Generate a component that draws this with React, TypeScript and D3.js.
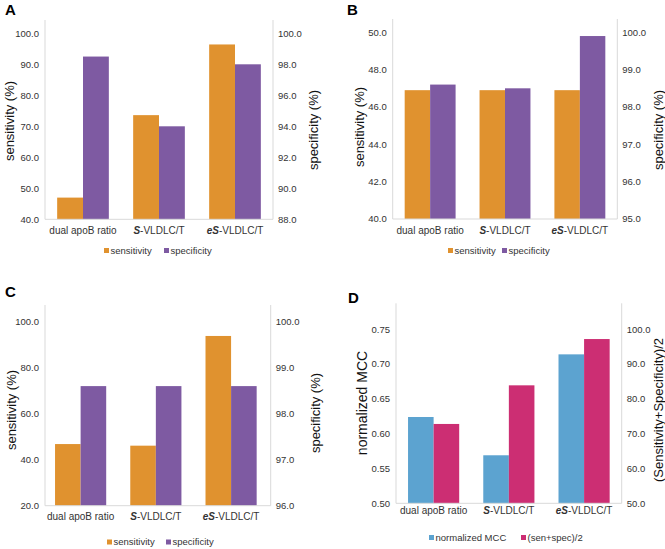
import React from "react";
import * as d3 from "d3";

// ---- data ----
const categoryPrefix = ["", "S", "eS"];
const categorySuffix = ["dual apoB ratio", "-VLDLC/T", "-VLDLC/T"];

const sensitivityA = [47.0, 73.6, 96.4];
const specificityA = [98.5, 94.0, 98.0];
const sensitivityB = [46.9, 46.9, 46.9];
const specificityB = [98.6, 98.5, 99.9];
const sensitivityC = [46.8, 46.1, 93.8];
const specificityC = [98.6, 98.6, 98.6];
const mccD = [0.624, 0.569, 0.714];
const senSpecD = [72.8, 83.9, 97.2];

const ticksALeft = [40, 50, 60, 70, 80, 90, 100];
const ticksARight = [88, 90, 92, 94, 96, 98, 100];
const ticksBLeft = [40, 42, 44, 46, 48, 50];
const ticksBRight = [95, 96, 97, 98, 99, 100];
const ticksCLeft = [20, 40, 60, 80, 100];
const ticksCRight = [96, 97, 98, 99, 100];
const ticksDLeft = [0.5, 0.55, 0.6, 0.65, 0.7, 0.75];
const ticksDRight = [50, 60, 70, 80, 90, 100];

const ORANGE = "#E0922F";
const PURPLE = "#7E5AA2";
const BLUE = "#5CA3D0";
const PINK = "#CC2E73";
const AXIS = "#D9D9D9";
const TEXT = "#333333";
const FONT = "'Liberation Sans', Arial, Helvetica, sans-serif";

type PanelCfg = {
  letter: string;
  letterX: number;
  letterY: number;
  left: number;
  right: number;
  top: number;
  maxY: number;
  base: number;
  leftTicks: number[];
  rightTicks: number[];
  leftDec: number;
  rightDec: number;
  s1: number[];
  s2: number[];
  c1: string;
  c2: string;
  n1: string;
  n2: string;
  leftLabel: string;
  rightLabel: string;
  leftLabelX: number;
  leftLabelY: number;
  leftLabelSize: number;
  rightLabelX: number;
  rightLabelY: number;
  rightLabelSize: number;
  catY: number;
  legY: number;
  legX: number;
  legGap: number;
  shift: number;
};

const panels: PanelCfg[] = [
  {
    letter: "A", letterX: 5, letterY: 15, left: 45, right: 273, top: 20, maxY: 33.3, base: 219.3,
    leftTicks: ticksALeft, rightTicks: ticksARight, leftDec: 1, rightDec: 1,
    s1: sensitivityA, s2: specificityA, c1: ORANGE, c2: PURPLE, n1: "sensitivity", n2: "specificity",
    leftLabel: "sensitivity (%)", rightLabel: "specificity (%)",
    leftLabelX: 9, leftLabelY: 121, leftLabelSize: 13, rightLabelX: 313, rightLabelY: 130, rightLabelSize: 13,
    catY: 233.5, legY: 250.5, legX: 104, legGap: 60, shift: 0,
  },
  {
    letter: "B", letterX: 347, letterY: 15, left: 392.7, right: 617.3, top: 19, maxY: 32.3, base: 219,
    leftTicks: ticksBLeft, rightTicks: ticksBRight, leftDec: 1, rightDec: 1,
    s1: sensitivityB, s2: specificityB, c1: ORANGE, c2: PURPLE, n1: "sensitivity", n2: "specificity",
    leftLabel: "sensitivity (%)", rightLabel: "specificity (%)",
    leftLabelX: 359, leftLabelY: 127, leftLabelSize: 13, rightLabelX: 658, rightLabelY: 130, rightLabelSize: 13,
    catY: 233.5, legY: 250.5, legX: 448, legGap: 54, shift: 0,
  },
  {
    letter: "C", letterX: 5, letterY: 297, left: 45, right: 270.7, top: 305, maxY: 321.7, base: 505.7,
    leftTicks: ticksCLeft, rightTicks: ticksCRight, leftDec: 1, rightDec: 1,
    s1: sensitivityC, s2: specificityC, c1: ORANGE, c2: PURPLE, n1: "sensitivity", n2: "specificity",
    leftLabel: "sensitivity (%)", rightLabel: "specificity (%)",
    leftLabelX: 11, leftLabelY: 410, leftLabelSize: 13, rightLabelX: 315, rightLabelY: 413, rightLabelSize: 13,
    catY: 519.5, legY: 542, legX: 107, legGap: 59, shift: -2,
  },
  {
    letter: "D", letterX: 348, letterY: 303, left: 396, right: 621.7, top: 303.3, maxY: 329.3, base: 503.3,
    leftTicks: ticksDLeft, rightTicks: ticksDRight, leftDec: 2, rightDec: 1,
    s1: mccD, s2: senSpecD, c1: BLUE, c2: PINK, n1: "normalized MCC", n2: "(sen+spec)/2",
    leftLabel: "normalized MCC", rightLabel: "(Sensitivity+Specificity)/2",
    leftLabelX: 362, leftLabelY: 403, leftLabelSize: 14, rightLabelX: 658, rightLabelY: 410, rightLabelSize: 13,
    catY: 514, legY: 537.5, legX: 429, legGap: 92, shift: 0,
  },
];

function Panel({ p }: { p: PanelCfg }) {
  const lt = p.leftTicks;
  const rt = p.rightTicks;
  const yL = d3.scaleLinear().domain([lt[0], lt[lt.length - 1]]).range([p.base, p.maxY]);
  const yR = d3.scaleLinear().domain([rt[0], rt[rt.length - 1]]).range([p.base, p.maxY]);
  const x = d3.scaleBand<number>().domain([0, 1, 2]).range([p.left + p.shift, p.right + p.shift]).padding(0);
  const groupHalf = x.bandwidth() * 0.34;
  const fmtL = d3.format(`.${p.leftDec}f`);
  const fmtR = d3.format(`.${p.rightDec}f`);
  return (
    <g fontFamily={FONT}>
      <text x={p.letterX} y={p.letterY} fontSize={15} fontWeight="bold" fill="#000">{p.letter}</text>
      {[0, 1, 2].map((i) => {
        const cx = (x(i) as number) + x.bandwidth() / 2;
        const xs = d3.scaleBand<number>().domain([0, 1]).range([cx - groupHalf, cx + groupHalf]).padding(0);
        const v1 = p.s1[i];
        const v2 = p.s2[i];
        return (
          <g key={i}>
            <rect x={xs(0)} width={xs.bandwidth()} y={yL(v1)} height={p.base - yL(v1)} fill={p.c1} />
            <rect x={xs(1)} width={xs.bandwidth()} y={yR(v2)} height={p.base - yR(v2)} fill={p.c2} />
            <text x={cx} y={p.catY} fontSize={10} textAnchor="middle" fill={TEXT}>
              {categoryPrefix[i] ? (
                <tspan fontWeight="bold" fontStyle="italic">{categoryPrefix[i]}</tspan>
              ) : null}
              <tspan>{categorySuffix[i]}</tspan>
            </text>
          </g>
        );
      })}
      <line x1={p.left} x2={p.left} y1={p.top} y2={p.base} stroke={AXIS} strokeWidth={1} />
      <line x1={p.right} x2={p.right} y1={p.top} y2={p.base} stroke={AXIS} strokeWidth={1} />
      <line x1={p.left} x2={p.right} y1={p.base} y2={p.base} stroke={AXIS} strokeWidth={1} />
      {lt.map((t) => (
        <text key={"l" + t} x={p.left - 6} y={yL(t)} dy="0.35em" fontSize={9.5} textAnchor="end" fill={TEXT}>
          {fmtL(t)}
        </text>
      ))}
      {rt.map((t) => (
        <text key={"r" + t} x={p.right + 5} y={yR(t)} dy="0.35em" fontSize={9.5} textAnchor="start" fill={TEXT}>
          {fmtR(t)}
        </text>
      ))}
      <text
        transform={`translate(${p.leftLabelX},${p.leftLabelY}) rotate(-90)`}
        dy="0.35em"
        fontSize={p.leftLabelSize}
        textAnchor="middle"
        fill="#111"
      >
        {p.leftLabel}
      </text>
      <text
        transform={`translate(${p.rightLabelX},${p.rightLabelY}) rotate(-90)`}
        dy="0.35em"
        fontSize={p.rightLabelSize}
        textAnchor="middle"
        fill="#111"
      >
        {p.rightLabel}
      </text>
      <rect x={p.legX} y={p.legY - 2.5} width={5} height={5} fill={p.c1} />
      <text x={p.legX + 6.5} y={p.legY} dy="0.35em" fontSize={9.5} fill={TEXT}>{p.n1}</text>
      <rect x={p.legX + p.legGap} y={p.legY - 2.5} width={5} height={5} fill={p.c2} />
      <text x={p.legX + p.legGap + 6.5} y={p.legY} dy="0.35em" fontSize={9.5} fill={TEXT}>{p.n2}</text>
    </g>
  );
}

export default function App() {
  return (
    <svg width={665} height={549} style={{ position: "absolute", left: 0, top: 0, background: "#fff" }}>
      <rect width={665} height={549} fill="#fff" />
      {panels.map((p) => (
        <Panel key={p.letter} p={p} />
      ))}
    </svg>
  );
}
